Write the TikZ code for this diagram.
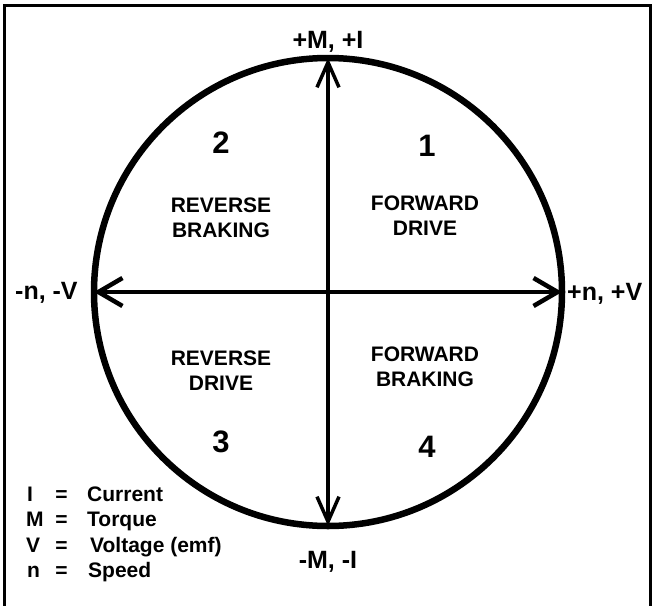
\documentclass[tikz,border=0pt]{standalone}
\usepackage{fontspec}
\setmainfont{Liberation Sans}
\usetikzlibrary{arrows.meta}
\tikzset{
  axislbl/.style={font=\fontsize{25}{30}\selectfont\bfseries, inner sep=0pt},
  quadtxt/.style={font=\fontsize{21}{25.5}\selectfont\bfseries, align=center, inner sep=0pt},
  quadnum/.style={font=\fontsize{31}{36}\selectfont\bfseries, inner sep=0pt, anchor=base},
  legtxt/.style={font=\fontsize{21}{24}\selectfont\bfseries, inner sep=0pt, anchor=base west},
  legeq/.style={font=\fontsize{21}{24}\selectfont\bfseries, inner sep=0pt, anchor=base},
  vaxis/.style={line width=3.5pt, {Straight Barb[length=25pt,width=22pt]}-{Straight Barb[length=25pt,width=22pt]}},
  haxis/.style={line width=4.5pt, {Straight Barb[length=24pt,width=28pt]}-{Straight Barb[length=24pt,width=28pt]}},
}
\begin{document}
\begin{tikzpicture}[x=1pt,y=-1pt]
\useasboundingbox (0,0) rectangle (653,605);
\fill[white] (0,0) rectangle (653,605);
% frame
\draw[line width=3pt] (4,606) -- (4,5) -- (650,5) -- (650,606);
% circle
\node[circle, draw, line width=6.5pt, minimum size=468pt, inner sep=0pt, outer sep=0pt] (c) at (328,292) {};
% axes
\draw[vaxis] (c.south) -- (c.north);
\draw[haxis] (c.west) -- (c.east);
% axis labels
\node[axislbl, anchor=base] (top) at (328,48) {+M, +I};
\node[axislbl, anchor=base] (bot) at (328,568) {-M, -I};
\node[axislbl, anchor=base west] (lft) at (15,299) {-n, -V};
\node[axislbl, anchor=base west] (rgt) at (567,300) {+n, +V};
% quadrants
\node[quadnum] (n2) at (221,153) {2};
\node[quadnum] (n1) at (427,156) {1};
\node[quadnum] (n3) at (221,452) {3};
\node[quadnum] (n4) at (427,457) {4};
\node[quadtxt] (q2) at (221,218) {REVERSE\\BRAKING};
\node[quadtxt] (q1) at (425,215.5) {FORWARD\\DRIVE};
\node[quadtxt] (q3) at (221,370.5) {REVERSE\\DRIVE};
\node[quadtxt] (q4) at (425,367) {FORWARD\\BRAKING};
% legend
\node[legtxt] (l1) at (27,501) {I};
\node[legeq] (e1) at (61.5,501) {=};
\node[legtxt] (w1) at (87,501) {Current};
\node[legtxt] (l2) at (26,526.5) {M};
\node[legeq] (e2) at (61.5,526.5) {=};
\node[legtxt] (w2) at (87,526.5) {Torque};
\node[legtxt] (l3) at (26,552) {V};
\node[legeq] (e3) at (61.5,552) {=};
\node[legtxt] (w3) at (90,552) {Voltage (emf)};
\node[legtxt] (l4) at (27,577.5) {n};
\node[legeq] (e4) at (61.5,577.5) {=};
\node[legtxt] (w4) at (88,577.5) {Speed};
\end{tikzpicture}
\end{document}
